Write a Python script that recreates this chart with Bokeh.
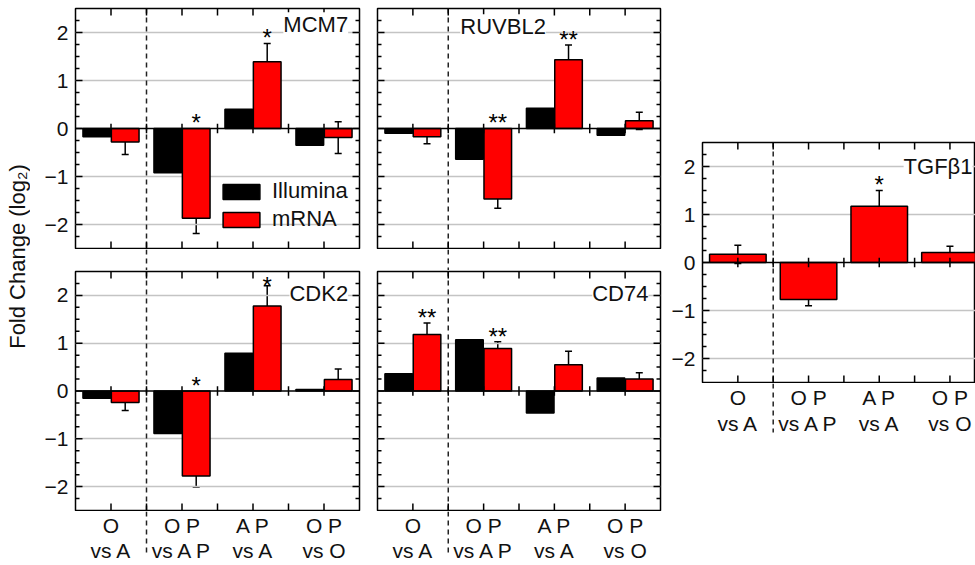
from bokeh.plotting import figure
from bokeh.models import (Range1d, FixedTicker, LinearAxis, Span, Whisker, ColumnDataSource,
                          Label, Legend, LegendItem, TeeHead)
from bokeh.layouts import row, column
from bokeh.embed import file_html
from bokeh.resources import INLINE
from bokeh.core.properties import value

FONT = "Liberation Sans"

cat_line1 = ["O", "O P", "A P", "O P"]
cat_line2 = ["vs A", "vs A P", "vs A", "vs O"]
y_ticks = [-2, -1, 0, 1, 2]

mcm7_illumina = [-0.17, -0.92, 0.40, -0.35]
mcm7_mrna = [-0.28, -1.87, 1.39, -0.19]
mcm7_err = [0.26, 0.32, 0.38, 0.33]
mcm7_sig = ["", "*", "*", ""]

ruvbl2_illumina = [-0.10, -0.64, 0.42, -0.14]
ruvbl2_mrna = [-0.17, -1.47, 1.43, 0.16]
ruvbl2_err = [0.15, 0.19, 0.31, 0.18]
ruvbl2_sig = ["", "**", "**", ""]

cdk2_illumina = [-0.15, -0.89, 0.79, 0.03]
cdk2_mrna = [-0.24, -1.78, 1.78, 0.24]
cdk2_err = [0.17, 0.23, 0.42, 0.22]
cdk2_sig = ["", "*", "*", ""]

cd74_illumina = [0.36, 1.07, -0.46, 0.27]
cd74_mrna = [1.18, 0.89, 0.55, 0.25]
cd74_err = [0.24, 0.14, 0.28, 0.13]
cd74_sig = ["**", "**", "", ""]

tgfb1_mrna = [0.17, -0.77, 1.17, 0.21]
tgfb1_err = [0.19, 0.13, 0.33, 0.13]
tgfb1_sig = ["", "", "*", ""]

N = len(cat_line1)
GRID = "#c4c4c4"
TICK_FS = "21px"
NAME_FS = "22px"
STAR_FS = "24px"
DASH = "5 4"


def minus(v):
    return ("\u2212%d" % abs(v)) if v < 0 else "%d" % v


def bare_fig(w, h, bl, br, bt, bb, x_end, y0, y1, outline="black"):
    p = figure(width=w, height=h, x_range=Range1d(-0.5, x_end), y_range=Range1d(y0, y1),
               min_border_left=bl, min_border_right=br, min_border_top=bt, min_border_bottom=bb,
               toolbar_location=None, output_backend="svg", x_axis_location=None,
               y_axis_location=None, outline_line_color=outline, outline_line_width=1.5)
    p.grid.visible = False
    return p


def frame_ticks(p, x_end, fw, fh, right=True):
    ux = fw / (x_end + 0.5)
    uy = fh / 5.0
    xt = [x for x in [i * 0.5 for i in range(2 * N - 1)] if x <= x_end]
    ly = 7 / uy
    x0 = xt + xt
    y0 = [2.5] * len(xt) + [-2.5] * len(xt)
    y1 = [2.5 - ly] * len(xt) + [-2.5 + ly] * len(xt)
    ymin = [t + q for t in range(-3, 3) for q in (0.25, 0.5, 0.75) if -2.5 < t + q < 2.5]
    yv = y_ticks + ymin
    lens = [7 / ux] * len(y_ticks) + [4 / ux] * len(ymin)
    xa = [-0.5] * len(yv)
    xb = [-0.5 + d for d in lens]
    yv2 = list(yv)
    if right:
        xa += [x_end] * len(yv)
        xb += [x_end - d for d in lens]
        yv2 += yv
    p.segment(x0=x0, x1=x0, y0=y0, y1=y1, line_color="black", line_width=1.5)
    p.segment(x0=xa, x1=xb, y0=yv2, y1=yv2, line_color="black", line_width=1.5)
    zx = [i * 0.5 for i in range(2 * N - 1)]
    p.segment(x0=zx, x1=zx, y0=[-0.1] * len(zx), y1=[0.1] * len(zx), line_color="black", line_width=1.5)


def panel_fig(w, h, bl, br, bt, bb, show_y, x_end=N - 0.5):
    p = bare_fig(w, h, bl, br, bt, bb, x_end, -2.5, 2.5)
    p.hspan(y=[t for t in y_ticks if t != 0], line_color=GRID, line_width=1.3)
    p.add_layout(Span(location=0, dimension="width", line_color="black", line_width=1.5))
    p.segment(x0=[0.5], x1=[0.5], y0=[2.5], y1=[-2.5], line_color="#222222",
              line_width=1.5, line_dash=DASH)
    if show_y:
        ax = LinearAxis(ticker=FixedTicker(ticks=y_ticks))
        ax.axis_line_color = None
        ax.major_tick_in = 0
        ax.major_tick_out = 0
        ax.minor_tick_in = 0
        ax.minor_tick_out = 0
        ax.major_label_overrides = {t: minus(t) for t in y_ticks}
        ax.major_label_standoff = 7
        ax.major_label_text_font = FONT
        ax.major_label_text_font_size = TICK_FS
        ax.major_label_text_color = "#111111"
        p.add_layout(ax, "left")
    return p


def stars(p, xs, tops, sig, fh):
    # centre the marks a little above the error bar, keeping the text box in the frame
    cap = 2.5 - 14 / (fh / 5.0)
    ys = [min(max(t, 0) + 0.12, cap) for t in tops]
    p.text(x=xs, y=ys, text=sig, text_font=value(FONT), text_font_size=STAR_FS,
           text_align="center", text_baseline="middle", text_color="black")


def whiskers(p, xs, vals, errs):
    src = ColumnDataSource(dict(x=xs, upper=[m + e for m, e in zip(vals, errs)],
                                lower=[m - e for m, e in zip(vals, errs)]))
    p.add_layout(Whisker(base="x", upper="upper", lower="lower", source=src, dimension="height",
                         line_color="black", line_width=1.5,
                         upper_head=TeeHead(size=7, line_width=1.5, line_color="black"),
                         lower_head=TeeHead(size=7, line_width=1.5, line_color="black")))


def name_label(p, x, y, text, align):
    p.add_layout(Label(x=x, y=y, text=text, text_align=align, text_baseline="middle",
                       text_font=FONT, text_font_size=NAME_FS, text_color="#111111",
                       background_fill_color="white"))


def panel(illum, mrna, err, sig, name, name_x, name_y, align, show_y, w, h, bl, br, bt,
          legend=False):
    fh = h - bt - 1
    p = panel_fig(w, h, bl, br, bt, 1, show_y)
    xb = [i - 0.2 for i in range(N)]
    xr = [i + 0.2 for i in range(N)]
    r1 = p.vbar(x=xb, top=illum, bottom=0, width=0.39, fill_color="black", line_color="black", line_width=1.5)
    r2 = p.vbar(x=xr, top=mrna, bottom=0, width=0.39, fill_color="#ff0000", line_color="black", line_width=1.5)
    whiskers(p, xr, mrna, err)
    frame_ticks(p, N - 0.5, w - bl - br, fh)
    stars(p, xr, [m + e for m, e in zip(mrna, err)], sig, fh)
    name_label(p, name_x, name_y, name, align)
    if legend:
        lg = Legend(items=[LegendItem(label="Illumina", renderers=[r1]),
                           LegendItem(label="mRNA", renderers=[r2])],
                    location=(143, 16), glyph_width=46, glyph_height=19, label_standoff=8,
                    spacing=2, padding=0, margin=0, border_line_color=None,
                    background_fill_alpha=0, label_text_font=FONT, label_text_font_size=NAME_FS,
                    label_height=19, label_text_color="#111111", label_text_baseline="middle")
        p.add_layout(lg)
    return p


def gap_strip(w, bl, br, h, x_end=N - 0.5, dash_from=0):
    s = bare_fig(w, h, bl, br, 0, 0, x_end, 0, h, outline=None)
    s.segment(x0=[0.5], x1=[0.5], y0=[h], y1=[dash_from], line_color="#222222",
              line_width=1.5, line_dash=DASH)
    return s


def label_strip(w, bl, br, h, c1, c2, dash_len, x_end=N - 0.5):
    s = gap_strip(w, bl, br, h, x_end, h - dash_len)
    xs = list(range(N))
    for txt, off in ((cat_line1, c1), (cat_line2, c2)):
        s.text(x=xs, y=[h - off] * N, text=txt, text_font=value(FONT), text_font_size=TICK_FS,
               text_align="center", text_baseline="middle", text_color="#111111")
    return s


# left column: frames x 75..359, y 8..248 and 271..510
tl = panel(mcm7_illumina, mcm7_mrna, mcm7_err, mcm7_sig, "MCM7", 3.34, 2.16, "right",
           True, 338, 249, 45, 9, 8, legend=True)
bl_ = panel(cdk2_illumina, cdk2_mrna, cdk2_err, cdk2_sig, "CDK2", 3.34, 2.04, "right",
            True, 338, 241, 45, 9, 1)
col1 = column(tl, gap_strip(338, 45, 9, 21), bl_, label_strip(338, 45, 9, 54, 14, 39, 44))

# middle column: frames x 377..660
tm = panel(ruvbl2_illumina, ruvbl2_mrna, ruvbl2_err, ruvbl2_sig, "RUVBL2", 0.67, 2.12, "left",
           False, 300, 249, 9, 8, 8)
bm = panel(cd74_illumina, cd74_mrna, cd74_err, cd74_sig, "CD74", 3.33, 2.04, "right",
           False, 300, 241, 9, 8, 1)
col2 = column(tm, gap_strip(300, 9, 8, 21), bm, label_strip(300, 9, 8, 54, 14, 39, 44))

# right panel (TGFb1): frame x 702.., y 142..382, cut at the window edge like the reference
FW_R = 273
x_end_r = -0.5 + FW_R / 70.7
rp = panel_fig(34 + FW_R, 383, 34, 0, 142, 1, True, x_end=x_end_r)
xs = list(range(N))
rp.vbar(x=xs, top=tgfb1_mrna, bottom=0, width=0.8, fill_color="#ff0000",
        line_color="black", line_width=1.5)
whiskers(rp, xs, tgfb1_mrna, tgfb1_err)
frame_ticks(rp, x_end_r, FW_R, 240, right=False)
stars(rp, xs, [m + e for m, e in zip(tgfb1_mrna, tgfb1_err)], tgfb1_sig, 240)
name_label(rp, x_end_r - 3 / 70.7, 2.01, "TGF\u03b21", "right")
col3 = column(rp, label_strip(34 + FW_R, 34, 0, 58, 14, 40, 49, x_end=x_end_r))

# shared y-axis title, centred near y = 256
lab = figure(width=30, height=565, x_range=Range1d(0, 1), y_range=Range1d(0, 1),
             min_border_left=29, min_border_right=0, min_border_top=0, min_border_bottom=53,
             toolbar_location=None, output_backend="svg", x_axis_location=None,
             y_axis_location=None, outline_line_color=None)
lab.grid.visible = False
yax = LinearAxis(ticker=FixedTicker(ticks=[]), axis_label="Fold Change (log\u2082)")
yax.axis_line_color = None
yax.major_tick_in = 0
yax.major_tick_out = 0
yax.minor_tick_in = 0
yax.minor_tick_out = 0
yax.axis_label_standoff = 0
yax.axis_label_text_font = FONT
yax.axis_label_text_font_size = "22px"
yax.axis_label_text_font_style = "normal"
yax.axis_label_text_color = "#111111"
lab.add_layout(yax, "left")

layout = row(lab, col1, col2, col3)
open("out.html", "w").write(file_html(layout, INLINE))
